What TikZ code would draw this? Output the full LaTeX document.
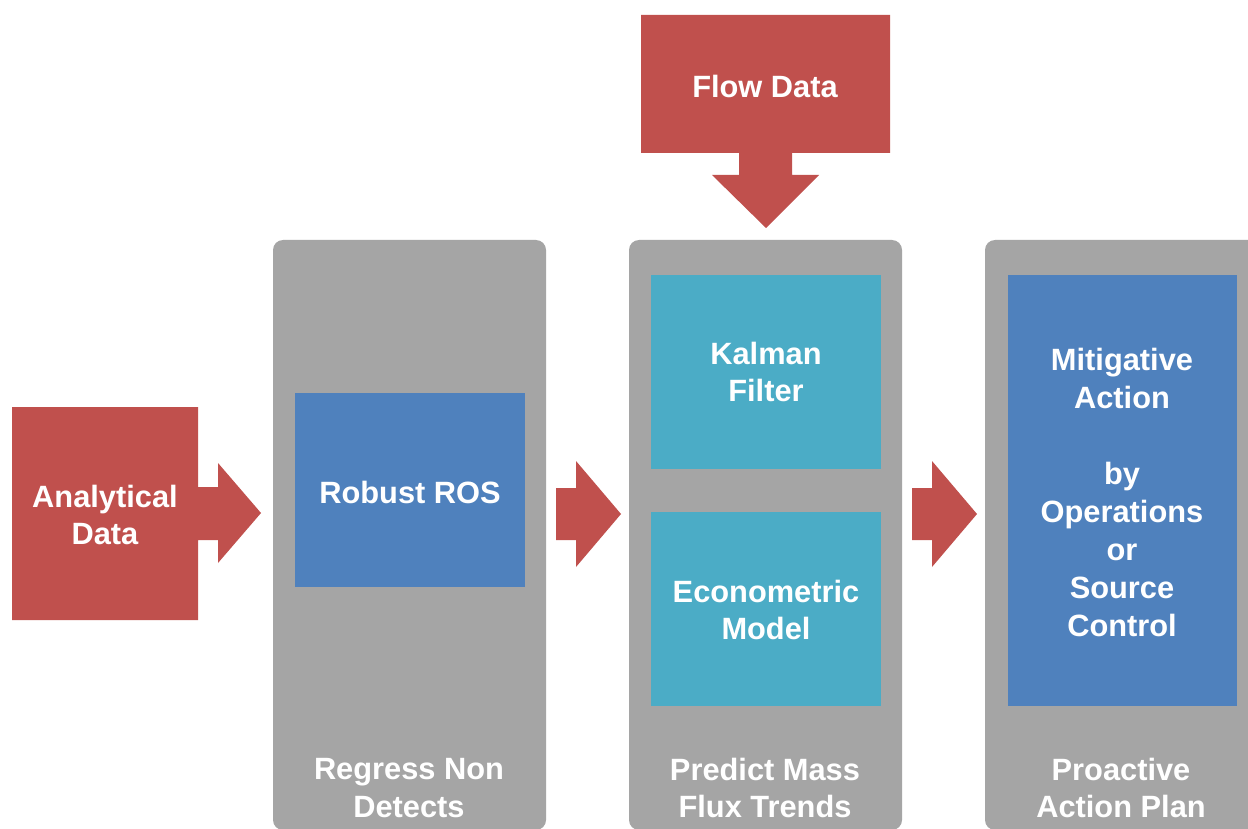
\documentclass[tikz,border=0pt]{standalone}
\usepackage{fontspec}
\setmainfont{Liberation Sans}
\definecolor{cred}{HTML}{C0504D}
\definecolor{cgray}{HTML}{A5A5A5}
\definecolor{cblue}{HTML}{4F81BD}
\definecolor{cteal}{HTML}{4BACC6}
\begin{document}
\begin{tikzpicture}[x=1pt,y=-1pt,
  txt/.style={text=white,font=\bfseries\fontsize{30.8}{37.5}\selectfont,align=center,inner sep=0pt},
  panel/.style={fill=cgray,rounded corners=10pt},
  redshape/.style={fill=cred},
  inbox/.style={fill=cblue},
  tealbox/.style={fill=cteal}]
\clip (0,0) rectangle (1248,829);
\fill[white] (0,0) rectangle (1248,829);
% panels
\fill[panel] (273,240) rectangle (546,830);
\fill[panel] (629,240) rectangle (902,830);
\fill[panel] (985,240) rectangle (1270,830);
% inner boxes
\fill[inbox] (295,393) rectangle (525,587);
\fill[tealbox] (651,275) rectangle (881,469);
\fill[tealbox] (651,512) rectangle (881,706);
\fill[inbox] (1008,275) rectangle (1237,706);
% red shapes
\fill[redshape] (12,407) -- (198,407) -- (198,487) -- (218,487) -- (218,463) -- (261,513) -- (218,563) -- (218,540) -- (198,540) -- (198,620) -- (12,620) -- cycle;
\fill[redshape] (641,15) -- (890,15) -- (890,153) -- (792,153) -- (792,175) -- (819,175) -- (766,228) -- (712,175) -- (739,175) -- (739,153) -- (641,153) -- cycle;
\fill[redshape] (556,488) -- (576,488) -- (576,461) -- (621,514) -- (576,567) -- (576,540) -- (556,540) -- cycle;
\fill[redshape] (912,488) -- (932,488) -- (932,461) -- (977,514) -- (932,567) -- (932,540) -- (912,540) -- cycle;
% texts
\node[txt] (analytical) at (105,515) {Analytical\\Data};
\node[txt] (flow) at (765,86) {Flow Data};
\node[txt] (ros) at (410,492) {Robust ROS};
\node[txt] (kalman) at (766,372) {Kalman\\Filter};
\node[txt] (econ) at (766,610) {Econometric\\Model};
\node[txt,font=\bfseries\fontsize{30.8}{38}\selectfont] (mitig) at (1122,492) {Mitigative\\Action\\[38pt]by\\Operations\\or\\Source\\Control};
\node[txt] (regress) at (409,788) {Regress Non\\Detects};
\node[txt] (predict) at (765,788) {Predict Mass\\Flux Trends};
\node[txt] (proactive) at (1121,788) {Proactive\\Action Plan};
\end{tikzpicture}
\end{document}
